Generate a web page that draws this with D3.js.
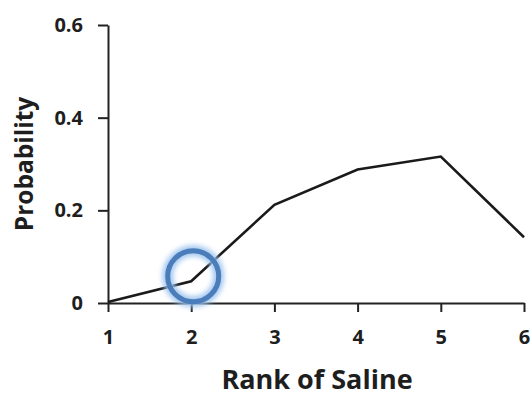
<!DOCTYPE html>
<html>
<head>
<meta charset="utf-8">
<script src="https://cdn.jsdelivr.net/npm/d3@7"></script>
<style>
  body { margin: 0; background: #fff; }
  svg { display: block; }
</style>
</head>
<body>
<svg id="chart" width="532" height="398"></svg>
<script>
// Probability of each saline rank
const ranks = [1, 2, 3, 4, 5, 6];
const probability = [0.002, 0.047, 0.212, 0.288, 0.316, 0.142];
const yTicks = [0, 0.2, 0.4, 0.6];
const yTickLabels = ["0", "0.2", "0.4", "0.6"];
const highlightRank = 2;

const font = "'Open Sans', sans-serif";
const svg = d3.select("#chart");
const x = d3.scaleLinear().domain([1, 6]).range([108, 524]);
const y = d3.scaleLinear().domain([0, 0.6]).range([303, 25]);

const xAxis = svg.append("g")
  .attr("transform", `translate(0,${y(0)})`)
  .call(d3.axisBottom(x).tickValues(ranks).tickFormat(d3.format("d")).tickSize(9).tickSizeOuter(0).tickPadding(18));
const yAxis = svg.append("g")
  .attr("transform", `translate(${x(1)},0)`)
  .call(d3.axisLeft(y).tickValues(yTicks).tickFormat((d, i) => yTickLabels[i]).tickSize(10).tickSizeOuter(0).tickPadding(15));

[xAxis, yAxis].forEach(g => {
  g.select(".domain").attr("stroke", "#222").attr("stroke-width", 2);
  g.selectAll(".tick line").attr("stroke", "#222").attr("stroke-width", 2);
  g.selectAll(".tick text")
    .attr("font-family", font).attr("font-weight", 700).attr("font-size", 20).attr("fill", "#1e1e1e");
});

// Probability curve
svg.append("path")
  .datum(ranks.map((r, i) => [r, probability[i]]))
  .attr("fill", "none")
  .attr("stroke", "#1a1a1a")
  .attr("stroke-width", 2.6)
  .attr("stroke-linejoin", "miter")
  .attr("d", d3.line().x(d => x(d[0])).y(d => y(d[1])));

// Highlight ring around rank 2
const defs = svg.append("defs");
const glow = defs.append("filter").attr("id", "glow").attr("x", "-50%").attr("y", "-50%").attr("width", "200%").attr("height", "200%");
glow.append("feGaussianBlur").attr("stdDeviation", 2.5);
const hi = probability[ranks.indexOf(highlightRank)];
const cx = x(highlightRank) + 2, cy = y(hi) - 5;
svg.append("circle")
  .attr("cx", cx).attr("cy", cy).attr("r", 25.5)
  .attr("fill", "none").attr("stroke", "#9cc3ee").attr("stroke-width", 11)
  .attr("filter", "url(#glow)").attr("opacity", 0.9);
svg.append("circle")
  .attr("cx", cx).attr("cy", cy).attr("r", 25.5)
  .attr("fill", "none").attr("stroke", "#4a7dba").attr("stroke-width", 5);

// Axis titles
svg.append("text")
  .attr("x", 317).attr("y", 389)
  .attr("text-anchor", "middle")
  .attr("font-family", font).attr("font-weight", 700).attr("font-size", 27).attr("fill", "#1e1e1e")
  .text("Rank of Saline");
svg.append("text")
  .attr("transform", `translate(33,164) rotate(-90)`)
  .attr("text-anchor", "middle")
  .attr("font-family", font).attr("font-weight", 700).attr("font-size", 24.5).attr("fill", "#1e1e1e")
  .text("Probability");
</script>
</body>
</html>
